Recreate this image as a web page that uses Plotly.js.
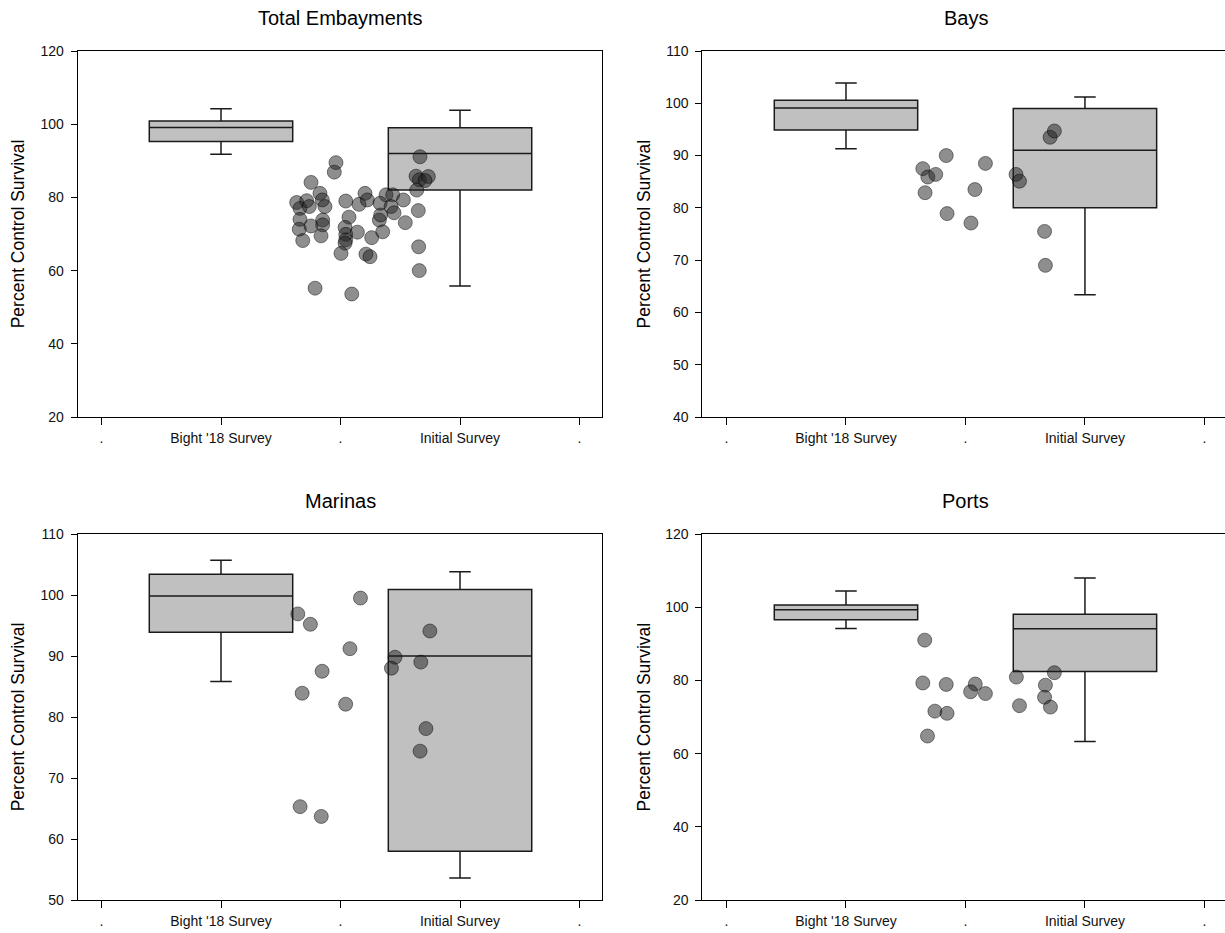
<!DOCTYPE html>
<html>
<head>
<meta charset="utf-8">
<script src="https://cdn.plot.ly/plotly-3.0.1.min.js"></script>
<style>html,body{margin:0;padding:0;background:#fff;}#chart{width:1225px;height:933px;}</style>
</head>
<body>
<div id="chart"></div>
<script>
// ---- categories / ticks ----
const tickVals = [0, 1, 2, 3, 4];
const tickText = ['.', "Bight '18 Survey", '.', 'Initial Survey', '.'];
const boxPos = [1, 3];
const panelTitles = ['Total Embayments', 'Bays', 'Marinas', 'Ports'];
const yTitle = 'Percent Control Survival';

// ---- Total Embayments ----
const teLow = [91.8, 55.8];
const teQ1 = [95.3, 82.0];
const teMed = [99.1, 92.0];
const teQ3 = [100.9, 99.0];
const teHigh = [104.2, 103.8];
const teX = [1.962, 1.948, 1.753, 1.633, 1.661, 1.717, 1.739, 1.828, 1.848, 1.870,
             1.661, 1.655, 1.684, 1.753, 1.851, 1.851, 1.837, 1.787, 2.044, 2.071,
             2.038, 2.044, 2.044, 2.038, 2.004, 2.141, 2.094, 2.155, 2.205, 2.224,
             2.261, 2.213, 2.247, 2.325, 2.336, 2.353, 2.331, 2.381, 2.437, 2.423,
             2.448, 2.526, 2.542, 2.665, 2.632, 2.659, 2.735, 2.707, 2.638, 2.651,
             2.654, 2.659];
const teY = [89.5, 86.9, 84.1, 78.6, 77.0, 79.1, 77.5, 81.1, 79.3, 77.5,
             74.0, 71.3, 68.2, 72.2, 73.8, 72.5, 69.5, 55.2, 79.0, 74.6,
             71.8, 69.9, 68.4, 67.5, 64.7, 70.5, 53.6, 78.1, 81.1, 79.3,
             69.0, 64.5, 63.8, 73.8, 75.2, 70.6, 78.4, 80.7, 80.7, 77.5,
             75.8, 79.3, 73.1, 91.1, 85.8, 84.8, 85.7, 84.6, 82.0, 76.4,
             66.5, 60.0];

// ---- Bays ----
const bayLow = [91.3, 63.4];
const bayQ1 = [94.9, 80.0];
const bayMed = [99.1, 91.0];
const bayQ3 = [100.6, 99.0];
const bayHigh = [103.9, 101.2];
const bayX = [1.643, 1.685, 1.751, 1.662, 1.839, 1.846, 2.167, 2.079, 2.046, 2.423, 2.452, 2.708, 2.744, 2.662, 2.669];
const bayY = [87.5, 85.9, 86.4, 82.9, 90.0, 78.9, 88.5, 83.5, 77.1, 86.4, 85.1, 93.5, 94.7, 75.5, 69.0];

// ---- Marinas ----
const marLow = [85.8, 53.6];
const marQ1 = [93.9, 58.0];
const marMed = [99.85, 90.0];
const marQ3 = [103.4, 100.9];
const marHigh = [105.7, 103.8];
const marX = [1.643, 1.748, 2.167, 2.079, 1.846, 1.679, 2.043, 1.662, 1.839, 2.456, 2.426, 2.672, 2.748, 2.715, 2.666];
const marY = [96.9, 95.2, 99.5, 91.2, 87.5, 83.9, 82.1, 65.3, 63.7, 89.8, 88.0, 89.0, 94.1, 78.1, 74.4];

// ---- Ports ----
const portLow = [94.2, 63.3];
const portQ1 = [96.6, 82.4];
const portMed = [99.3, 94.1];
const portQ3 = [100.6, 98.1];
const portHigh = [104.4, 108.0];
const portX = [1.659, 1.643, 1.839, 1.744, 1.846, 1.682, 2.082, 2.043, 2.167, 2.426, 2.452, 2.669, 2.662, 2.711, 2.744];
const portY = [91.0, 79.3, 78.9, 71.6, 71.0, 64.8, 79.0, 76.9, 76.4, 80.9, 73.1, 78.7, 75.4, 72.7, 82.1];

// ---- build ----
const W = 1225, H = 933;
const px = v => v / W;
const py = v => 1 - v / H;

const panels = [
  {ax: '', low: teLow, q1: teQ1, med: teMed, q3: teQ3, high: teHigh, x: teX, y: teY},
  {ax: '2', low: bayLow, q1: bayQ1, med: bayMed, q3: bayQ3, high: bayHigh, x: bayX, y: bayY},
  {ax: '3', low: marLow, q1: marQ1, med: marMed, q3: marQ3, high: marHigh, x: marX, y: marY},
  {ax: '4', low: portLow, q1: portQ1, med: portMed, q3: portQ3, high: portHigh, x: portX, y: portY}
];

const traces = [];
panels.forEach(p => {
  traces.push({
    type: 'box', x: boxPos, q1: p.q1, median: p.med, q3: p.q3,
    lowerfence: p.low, upperfence: p.high,
    width: 1.2, whiskerwidth: 0.15, boxpoints: false,
    fillcolor: '#c0c0c0', line: {color: '#1a1a1a', width: 1.5},
    xaxis: 'x' + p.ax, yaxis: 'y' + p.ax, hoverinfo: 'skip', showlegend: false
  });
  traces.push({
    type: 'scatter', mode: 'markers', x: p.x, y: p.y,
    marker: {size: 14, color: 'rgba(30,30,30,0.5)', line: {color: 'rgba(0,0,0,0.45)', width: 1}},
    xaxis: 'x' + p.ax, yaxis: 'y' + p.ax, hoverinfo: 'y', showlegend: false
  });
});

const leftDom = [px(77.7), px(602)];
const rightDom = [px(702.3), 1];
const topDom = [py(417), py(51)];
const botDom = [py(900), py(534)];
const leftRange = [-0.199, 4.188];
const rightRange = [-0.2025, 4.172];

function xax(dom, rng, anchor) {
  return {
    domain: dom, range: rng, anchor: anchor,
    tickmode: 'array', tickvals: tickVals, ticktext: tickText,
    ticks: 'outside', ticklen: 7, tickwidth: 1, tickcolor: '#000',
    ticklabelstandoff: 1,
    showline: true, linecolor: '#000', linewidth: 1, mirror: true,
    showgrid: false, zeroline: false,
    tickfont: {size: 14, color: '#111'}
  };
}
function yax(dom, rng, dtick, anchor, mirror) {
  return {
    domain: dom, range: rng, dtick: dtick, tick0: 0, anchor: anchor,
    ticks: 'outside', ticklen: 6, tickwidth: 1, tickcolor: '#000',
    ticklabelstandoff: 4,
    showline: true, linecolor: '#000', linewidth: 1, mirror: mirror,
    showgrid: false, zeroline: false,
    tickfont: {size: 14, color: '#111'}
  };
}

const annotations = [];
const titlePos = [[340, 18.5], [965.5, 18.5], [340, 501], [965.5, 501]];
panelTitles.forEach((t, i) => {
  annotations.push({text: t, xref: 'paper', yref: 'paper', x: px(titlePos[i][0]), y: py(titlePos[i][1]),
    xanchor: 'center', yanchor: 'middle', showarrow: false, font: {size: 20, color: '#000'}});
});
const yTitlePos = [[18.3, 234], [643.5, 234], [18.3, 717], [643.5, 717]];
yTitlePos.forEach(p => {
  annotations.push({text: yTitle, xref: 'paper', yref: 'paper', x: px(p[0]), y: py(p[1]),
    xanchor: 'center', yanchor: 'middle', textangle: -90, showarrow: false, font: {size: 17.5, color: '#000'}});
});

const layout = {
  width: W, height: H,
  margin: {l: 0, r: 0, t: 0, b: 0},
  paper_bgcolor: '#fff', plot_bgcolor: '#fff',
  font: {family: '"Liberation Sans", Arial, sans-serif', color: '#000'},
  showlegend: false,
  xaxis: xax(leftDom, leftRange, 'y'),
  yaxis: yax(topDom, [20, 120], 20, 'x', true),
  xaxis2: xax(rightDom, rightRange, 'y2'),
  yaxis2: yax(topDom, [40, 110], 10, 'x2', false),
  xaxis3: xax(leftDom, leftRange, 'y3'),
  yaxis3: yax(botDom, [50, 110], 10, 'x3', true),
  xaxis4: xax(rightDom, rightRange, 'y4'),
  yaxis4: yax(botDom, [20, 120], 20, 'x4', false),
  annotations: annotations
};

Plotly.newPlot('chart', traces, layout, {displayModeBar: false, staticPlot: true});
</script>
</body>
</html>
